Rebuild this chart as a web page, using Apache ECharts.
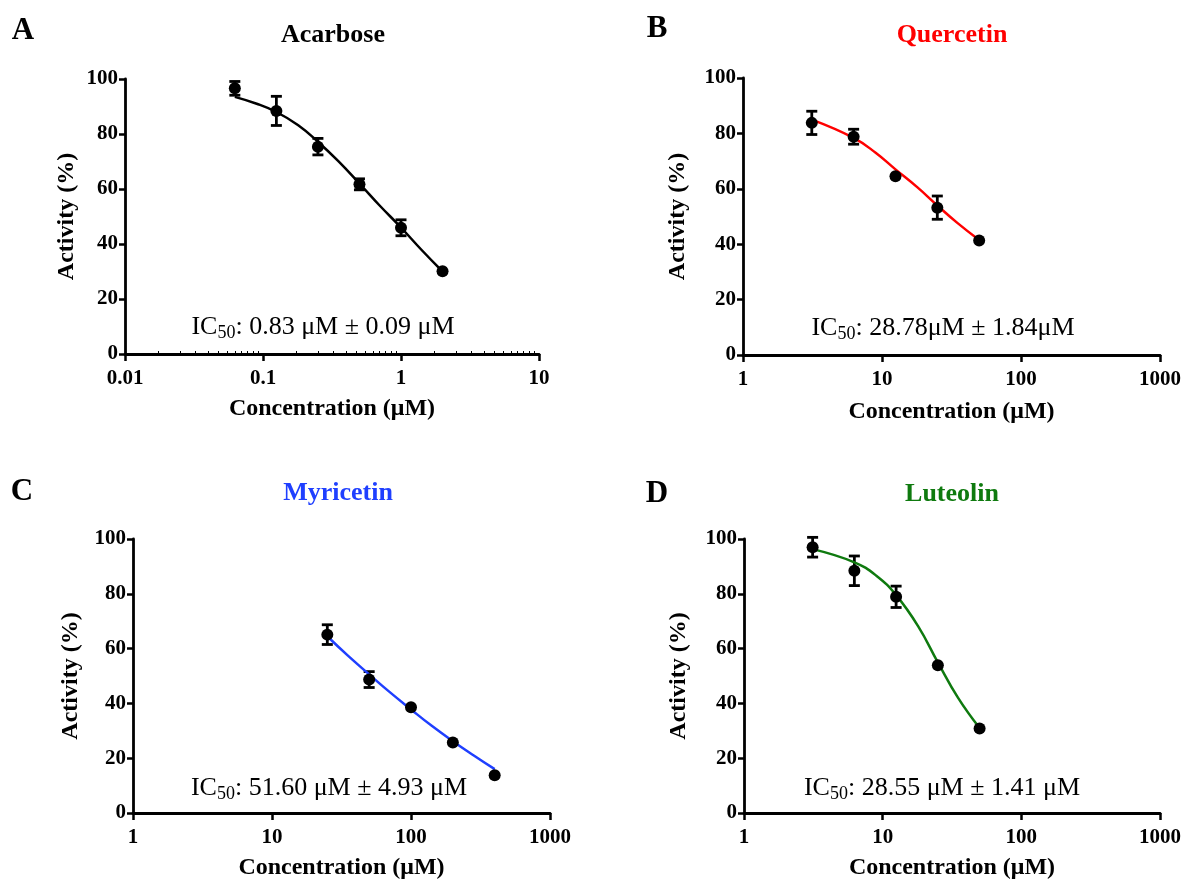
<!DOCTYPE html>
<html>
<head>
<meta charset="utf-8">
<title>IC50 curves</title>
<script src="https://cdn.jsdelivr.net/npm/echarts@6/dist/echarts.min.js"></script>
<style>
  html, body { margin: 0; padding: 0; background: #fff; }
  #chart { width: 1184px; height: 881px; }
</style>
</head>
<body>
<div id="chart"></div>
<script>
// panel titles, letters and IC50 notes
var panelNames = ['Acarbose', 'Quercetin', 'Myricetin', 'Luteolin'];
var panelLetters = ['A', 'B', 'C', 'D'];
var panelColors = ['#000000', '#ff0000', '#1f3fff', '#0f7a0f'];
var ic50Texts = [': 0.83 μM ± 0.09 μM', ': 28.78μM ± 1.84μM', ': 51.60 μM ± 4.93 μM', ': 28.55 μM ± 1.41 μM'];

// x ranges (log axis)
var xMins = [0.01, 1, 1, 1];
var xMaxs = [10, 1000, 1000, 1000];
var yTicks = [0, 20, 40, 60, 80, 100];

// measured points: concentration, mean activity, error
var concA = [0.0625, 0.125, 0.25, 0.5, 1, 2];
var meanA = [96.6, 88.4, 75.4, 61.7, 45.9, 30.1];
var errA = [2.5, 5.3, 3, 2, 2.9, 0];

var concB = [3.125, 6.25, 12.5, 25, 50];
var meanB = [83.8, 78.8, 64.5, 53.2, 41.3];
var errB = [4.2, 2.7, 0, 4.2, 0];

var concC = [25, 50, 100, 200, 400];
var meanC = [65.1, 48.7, 38.6, 25.7, 13.8];
var errC = [3.6, 2.9, 0, 0, 0];

var concD = [3.125, 6.25, 12.5, 25, 50];
var meanD = [97, 88.4, 78.9, 53.9, 30.8];
var errD = [3.6, 5.4, 3.9, 0, 0];

// fitted curves
var fitXA = [0.0625, 0.09, 0.125, 0.18, 0.25, 0.35, 0.5, 0.7, 1, 1.4, 2];
var fitYA = [93.5, 91, 88, 83.2, 77.2, 70.2, 62, 54, 46, 38, 30];

var fitXB = [3.125, 6.25, 9, 12.5, 18, 25, 35, 50];
var fitYB = [85, 78.4, 73, 67, 60.5, 54, 47.6, 41.5];

var fitXC = [25, 35, 50, 70, 100, 141, 200, 283, 400];
var fitYC = [64.5, 57.5, 50.6, 44.2, 37.8, 31.8, 26.2, 21, 16];

var fitXD = [3.125, 6.25, 9, 12.5, 18, 25, 35, 50];
var fitYD = [96.3, 91.5, 86.6, 79.5, 68.2, 55, 42, 31];

var conc = [concA, concB, concC, concD];
var means = [meanA, meanB, meanC, meanD];
var errs = [errA, errB, errC, errD];
var fitX = [fitXA, fitXB, fitXC, fitXD];
var fitY = [fitYA, fitYB, fitYC, fitYD];

// plot rectangles [left, top, right, bottom]
var boxes = [
    [125, 79, 539, 354],
    [743, 78, 1160, 355],
    [133, 539, 550, 816],
    [744, 539, 1161, 816]
];
var xNameGaps = [43, 45, 43, 43];
var yNameGaps = [46, 53, 50, 53];

var serif = 'Liberation Serif';

function renderErr(params, api) {
    var x = api.value(0), m = api.value(1), e = api.value(2);
    if (!e) return;
    var top = api.coord([x, m + e]),
        bot = api.coord([x, m - e]),
        hw = 5.5,
        st = { stroke: '#000', lineWidth: 2.8 };
    return {
        type: 'group',
        children: [
            { type: 'line', shape: { x1: top[0], y1: top[1], x2: bot[0], y2: bot[1] }, style: st },
            { type: 'line', shape: { x1: top[0] - hw, y1: top[1], x2: top[0] + hw, y2: top[1] }, style: st },
            { type: 'line', shape: { x1: bot[0] - hw, y1: bot[1], x2: bot[0] + hw, y2: bot[1] }, style: st }
        ]
    };
}

var grids = [], xAxes = [], yAxes = [], series = [], graphics = [];

boxes.forEach(function(b, i){
    grids.push({ left: b[0], top: b[1], width: b[2] - b[0], height: b[3] - b[1] });

    xAxes.push({
        type: 'log', logBase: 10, gridIndex: i,
        min: xMins[i], max: xMaxs[i],
        axisLine: { lineStyle: { color: '#000', width: 2.8 } },
        axisTick: { length: 7, lineStyle: { color: '#000', width: 2.5 } },
        minorTick: { show: i === 0, splitNumber: 12, length: -3, lineStyle: { color: '#000', width: 1 } },
        splitLine: { show: false },
        axisLabel: {
            color: '#000', fontFamily: serif, fontWeight: 'bold', fontSize: 21, margin: 14,
            formatter: function(v){ return String(parseFloat(Number(v).toPrecision(6))); }
        },
        name: 'Concentration (μM)', nameLocation: 'middle', nameGap: xNameGaps[i],
        nameTextStyle: { color: '#000', fontFamily: serif, fontWeight: 'bold', fontSize: 24 }
    });

    yAxes.push({
        type: 'value', gridIndex: i,
        min: yTicks[0], max: yTicks[yTicks.length - 1], interval: 20,
        axisLine: { show: true, lineStyle: { color: '#000', width: 2.8 } },
        axisTick: { show: true, length: 6, lineStyle: { color: '#000', width: 2.5 } },
        splitLine: { show: false },
        axisLabel: { color: '#000', fontFamily: serif, fontWeight: 'bold', fontSize: 21, margin: 7 },
        name: 'Activity (%)', nameLocation: 'middle', nameGap: yNameGaps[i],
        nameTextStyle: { color: '#000', fontFamily: serif, fontWeight: 'bold', fontSize: 24 }
    });

    series.push({
        type: 'line', xAxisIndex: i, yAxisIndex: i,
        data: fitX[i].map(function(x, k){ return [x, fitY[i][k]]; }),
        smooth: 0.45, showSymbol: false, silent: true,
        lineStyle: { color: panelColors[i], width: 2.5 }
    });
    series.push({
        type: 'custom', xAxisIndex: i, yAxisIndex: i,
        renderItem: renderErr,
        encode: { x: 0, y: 1 },
        data: conc[i].map(function(x, k){ return [x, means[i][k], errs[i][k]]; }),
        z: 3
    });
    series.push({
        type: 'scatter', xAxisIndex: i, yAxisIndex: i,
        data: conc[i].map(function(x, k){ return [x, means[i][k]]; }),
        symbol: 'circle', symbolSize: 12,
        itemStyle: { color: '#000', opacity: 1 }, z: 4
    });
});

// letters, titles and IC50 notes
var letterPos = [[23, 31], [657, 29], [22, 492], [657, 494]];
var titlePos = [[333, 35], [952, 35], [338, 493], [952, 494]];
var icPos = [[323, 327], [943, 328], [329, 788], [942, 788]];

panelNames.forEach(function(name, i){
    graphics.push({
        type: 'text', x: letterPos[i][0], y: letterPos[i][1],
        style: { text: panelLetters[i], fill: '#000', font: 'bold 31px "Liberation Serif"', align: 'center', verticalAlign: 'middle' }
    });
    graphics.push({
        type: 'text', x: titlePos[i][0], y: titlePos[i][1],
        style: { text: name, fill: panelColors[i], font: 'bold 26px "Liberation Serif"', align: 'center', verticalAlign: 'middle' }
    });
    graphics.push({
        type: 'text', x: icPos[i][0], y: icPos[i][1],
        style: {
            text: '{n|IC}{s|50}{n|' + ic50Texts[i] + '}',
            align: 'center', verticalAlign: 'middle',
            rich: {
                n: { fontFamily: serif, fontSize: 26, fill: '#000', color: '#000', lineHeight: 30 },
                s: { fontFamily: serif, fontSize: 18, fill: '#000', color: '#000', verticalAlign: 'bottom', lineHeight: 18 }
            }
        }
    });
});

var chart = echarts.init(document.getElementById('chart'));
chart.setOption({
    animation: false,
    backgroundColor: '#fff',
    grid: grids,
    xAxis: xAxes,
    yAxis: yAxes,
    series: series,
    graphic: graphics
});
</script>
</body>
</html>
